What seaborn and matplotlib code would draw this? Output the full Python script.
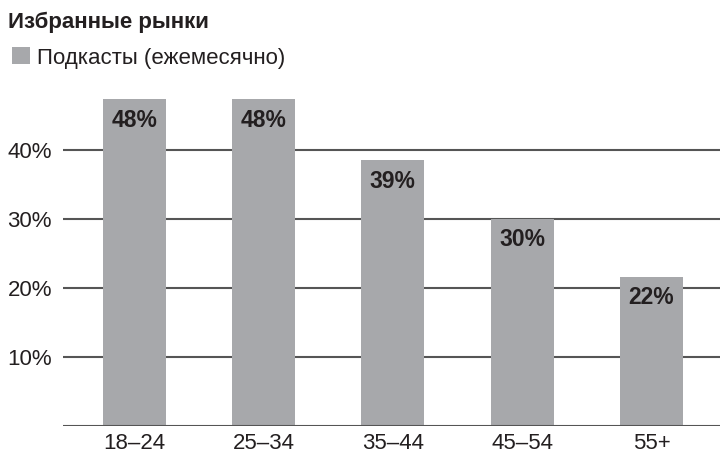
import matplotlib
matplotlib.use("Agg")
import matplotlib.pyplot as plt
import seaborn as sns
import pandas as pd
from matplotlib.patches import Patch

categories = ["18–24", "25–34", "35–44", "45–54", "55+"]
values = [47.3, 47.3, 38.5, 30.0, 21.6]
value_labels = ["48%", "48%", "39%", "30%", "22%"]
y_ticks = [10, 20, 30, 40]
y_tick_labels = ["10%", "20%", "30%", "40%"]
series_name = "Подкасты (ежемесячно)"
title = "Избранные рынки"

sns.set_theme(style="white")
plt.rcParams["font.family"] = ["Liberation Sans", "DejaVu Sans"]

BAR = "#a7a8ab"
GRID = "#555555"
TXT = "#231f20"

df = pd.DataFrame({"age": categories, "share": values})

fig = plt.figure(figsize=(7.2, 4.53), dpi=100)
ax = fig.add_axes([63/720, (453-426)/453, 657/720, 345.5/453])

for y in y_ticks:
    ax.axhline(y, color=GRID, lw=1.5, zorder=0)
ax.axhline(0, color=GRID, lw=1.5, zorder=3)

sns.barplot(data=df, x="age", y="share", color=BAR, width=0.487,
            saturation=1, ax=ax, zorder=2, edgecolor="none", linewidth=0)

for i, (v, lab) in enumerate(zip(values, value_labels)):
    ax.annotate(lab, (i, v), xytext=(0, -7), textcoords="offset points",
                ha="center", va="top", fontsize=16.5, fontweight="bold", color=TXT)

ax.set_xlim(-0.55, 4.53)
ax.set_ylim(0, 50)
ax.set_yticks(y_ticks)
ax.set_yticklabels(y_tick_labels)
ax.set_xlabel("")
ax.set_ylabel("")
for s in ax.spines.values():
    s.set_visible(False)
ax.tick_params(axis="y", length=0, pad=8, labelsize=16, labelcolor=TXT)
ax.tick_params(axis="x", length=0, pad=5, labelsize=16, labelcolor=TXT)

fig.text(8/720, 1 - 22/453, title, fontsize=16, fontweight="bold", color=TXT,
         ha="left", va="center")

handle = Patch(facecolor=BAR, edgecolor="none")
fig.legend([handle], [series_name], loc="center left",
           bbox_to_anchor=(3/720, 1 - 58/453), frameon=False, fontsize=16,
           handlelength=0.8, handleheight=0.8, handletextpad=0.35,
           labelcolor=TXT, borderaxespad=0)

fig.savefig("out.png", dpi=100)
